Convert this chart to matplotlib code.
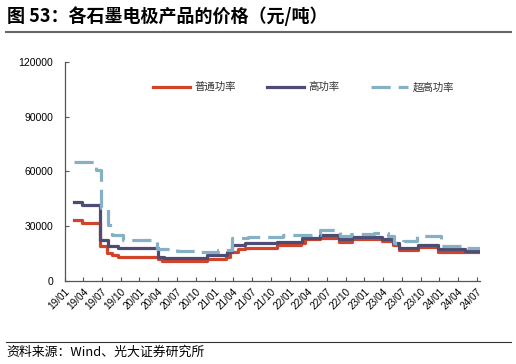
import matplotlib

matplotlib.use("Agg")
import matplotlib.pyplot as plt
import pandas as pd

plt.rcParams["font.family"] = ["Liberation Sans", "Noto Sans CJK SC", "DejaVu Sans"]

# price change points (元/吨), stepwise series
normal_dates = [
    "2019-02-15", "2019-03-25", "2019-06-22", "2019-07-25", "2019-08-18",
    "2019-09-20", "2020-04-01", "2020-04-18", "2020-11-25", "2021-02-25",
    "2021-03-15", "2021-04-25", "2021-05-28", "2021-11-01", "2022-02-28",
    "2022-03-15", "2022-05-28", "2022-09-01", "2022-11-01", "2023-03-25",
    "2023-05-18", "2023-06-20", "2023-09-18", "2023-12-25", "2024-05-03",
    "2024-07-20",
]
normal_price = [
    33500, 32000, 18900, 15200, 14000,
    13000, 12000, 11000, 11900, 13400,
    16100, 17400, 18000, 19800, 21000,
    22900, 23800, 21600, 22900, 22000,
    19800, 17000, 18500, 16100, 15800,
    15800,
]

high_dates = [
    "2019-02-15", "2019-03-25", "2019-06-22", "2019-08-03", "2019-09-20",
    "2020-04-01", "2020-05-01", "2020-11-25", "2021-03-01", "2021-03-25",
    "2021-05-28", "2021-11-01", "2022-03-01", "2022-05-28", "2022-09-01",
    "2022-11-01", "2023-03-25", "2023-05-18", "2023-06-20", "2023-09-18",
    "2023-12-25", "2024-05-03", "2024-07-20",
]
high_price = [
    43200, 41800, 22500, 18900, 18000,
    13400, 12800, 14300, 16100, 19800,
    20700, 21300, 23400, 25300, 22900,
    24000, 23100, 20700, 18000, 19800,
    17400, 16700, 16700,
]

ultra_dates = [
    "2019-02-15", "2019-06-01", "2019-06-26", "2019-08-01", "2019-08-18",
    "2019-10-15", "2020-03-28", "2020-07-01", "2020-10-20", "2021-01-20",
    "2021-03-25", "2021-06-15", "2021-12-01", "2022-05-28", "2022-08-15",
    "2022-09-05", "2022-10-25", "2023-02-15", "2023-04-25", "2023-05-25",
    "2023-07-10", "2023-09-15", "2024-01-10", "2024-05-03", "2024-07-20",
]
ultra_price = [
    65000, 60600, 40000, 30800, 25300,
    22500, 17800, 16500, 16100, 17000,
    23400, 24000, 25300, 27700, 27100,
    24700, 25800, 26200, 24700, 20700,
    22100, 24700, 19200, 18000, 18000,
]

tick_dates = pd.date_range("2019-01-01", "2024-07-01", freq="QS")
tick_labels = [d.strftime("%y/%m") for d in tick_dates]
y_ticks = [0, 30000, 60000, 90000, 120000]

red = "#D0452A"
dark = "#4E4C73"
light = "#86B0C6"

fig = plt.figure(figsize=(5.16, 3.64), dpi=100)
ax = fig.add_axes([0.125, 0.228, 0.805, 0.602])

ax.step(pd.to_datetime(normal_dates), normal_price, where="post",
        color=red, linewidth=2.3, label="普通功率")
ax.step(pd.to_datetime(high_dates), high_price, where="post",
        color=dark, linewidth=2.3, label="高功率")
ax.step(pd.to_datetime(ultra_dates), ultra_price, where="post",
        color=light, linewidth=2.3, linestyle=(0, (6, 2.5)), label="超高功率")

ax.set_xlim(pd.Timestamp("2019-01-01"), pd.Timestamp("2024-07-16"))
ax.set_ylim(0, 120000)
ax.set_yticks(y_ticks)
ax.set_yticklabels([str(v) for v in y_ticks], fontsize=7.5)
ax.set_xticks(tick_dates)
ax.set_xticklabels(tick_labels, rotation=45, ha="right", rotation_mode="anchor",
                   fontsize=7.2)
ax.tick_params(axis="both", direction="in", length=3, color="#555555", pad=4)
ax.tick_params(axis="y", pad=8)

for s in ["top", "right"]:
    ax.spines[s].set_visible(False)
for s in ["left", "bottom"]:
    ax.spines[s].set_color("#555555")
    ax.spines[s].set_linewidth(0.9)

leg = ax.legend(loc="center", bbox_to_anchor=(0.575, 0.885), ncol=3, frameon=False,
                prop={"family": "Noto Sans CJK SC", "size": 7.5},
                handlelength=3.6, columnspacing=3.0, handletextpad=0.4)
for t in leg.get_texts():
    t.set_color("#333333")

# title, rules and source note
fig.text(0.013, 0.956, "图 53：各石墨电极产品的价格（元/吨）", fontsize=13,
         fontweight="bold", family=["Noto Sans CJK SC", "DejaVu Sans"], va="center")
fig.add_artist(plt.Line2D([0.012, 0.99], [0.913, 0.913], color="#666666",
                          linewidth=1.5))
fig.add_artist(plt.Line2D([0.012, 0.99], [0.06, 0.06], color="#333333",
                          linewidth=0.8))
fig.text(0.013, 0.032, "资料来源：Wind、光大证券研究所", fontsize=9.3,
         family=["Noto Sans CJK SC", "DejaVu Sans"], va="center")

fig.savefig("out.png", dpi=100)
